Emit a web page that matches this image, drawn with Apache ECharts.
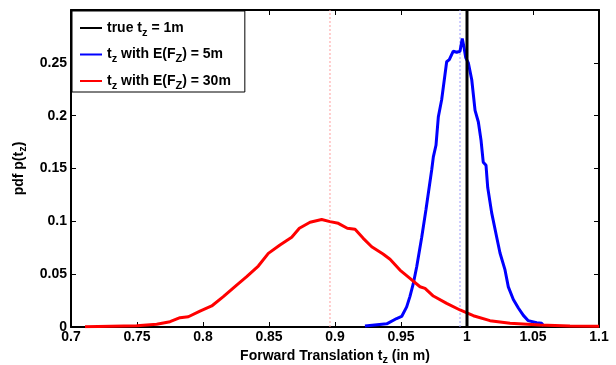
<!DOCTYPE html>
<html>
<head>
<meta charset="utf-8">
<script src="https://cdn.jsdelivr.net/npm/echarts@6/dist/echarts.min.js"></script>
<style>
  html, body { margin: 0; padding: 0; background: #fff; }
  #main { width: 616px; height: 365px; }
</style>
</head>
<body>
<div id="main"></div>
<script>
// blue: t_z with E(F_Z) = 5m
var blueX = [0.9227, 0.9392, 0.9467, 0.9505, 0.9543, 0.9568, 0.9593, 0.9619, 0.9657, 0.9689,
  0.9733, 0.9745, 0.9765, 0.9783, 0.9808, 0.9828, 0.9846, 0.9866, 0.9896, 0.9922,
  0.9947, 0.9964, 0.9977, 0.9990, 1.0010, 1.0036, 1.0061, 1.0086, 1.0106, 1.0123,
  1.0144, 1.0157, 1.0187, 1.0225, 1.0250, 1.0288, 1.0313, 1.0351, 1.0389, 1.0427,
  1.0464, 1.0528, 1.0566, 1.0580];
var blueY = [0.001, 0.003, 0.008, 0.010, 0.019, 0.029, 0.041, 0.057, 0.085, 0.111,
  0.149, 0.161, 0.172, 0.199, 0.215, 0.234, 0.251, 0.253, 0.261, 0.260,
  0.261, 0.273, 0.265, 0.255, 0.250, 0.234, 0.205, 0.194, 0.177, 0.156,
  0.153, 0.132, 0.108, 0.085, 0.070, 0.054, 0.038, 0.026, 0.018, 0.011,
  0.006, 0.004, 0.0035, 0.001];

// red: t_z with E(F_Z) = 30m
var redX = [0.7106, 0.7498, 0.7649, 0.7750, 0.7826, 0.7889, 0.7977, 0.8066, 0.8154, 0.8255,
  0.8331, 0.8419, 0.8495, 0.8583, 0.8672, 0.8730, 0.8811, 0.8899, 0.8962, 0.9025,
  0.9093, 0.9152, 0.9214, 0.9278, 0.9364, 0.9417, 0.9492, 0.9568, 0.9644, 0.9682,
  0.9745, 0.9846, 0.9947, 1.0048, 1.0174, 1.0326, 1.0553, 1.0780, 1.1000];
var redY = [0.0003, 0.0012, 0.0026, 0.0050, 0.0088, 0.0097, 0.0151, 0.0199, 0.0287, 0.0397,
  0.0476, 0.0577, 0.0697, 0.0776, 0.0849, 0.0934, 0.0991, 0.1017, 0.0997, 0.0981,
  0.0934, 0.0925, 0.0839, 0.0760, 0.0691, 0.0641, 0.0539, 0.0461, 0.0381, 0.0366,
  0.0293, 0.0224, 0.0161, 0.0107, 0.0060, 0.0035, 0.0019, 0.0009, 0.0007];

// vertical markers
var trueTz = 1.0;
var blueMean = 0.9947;
var redMean = 0.8962;

var legendNames = ['true tz = 1m', 'tz with E(FZ) = 5m', 'tz with E(FZ) = 30m'];
var legendRich = {
  'true tz = 1m': '{b|true t}{s|z}{b| = 1m}',
  'tz with E(FZ) = 5m': '{b|t}{s|z}{b| with E(F}{s|Z}{b|) = 5m}',
  'tz with E(FZ) = 30m': '{b|t}{s|z}{b| with E(F}{s|Z}{b|) = 30m}'
};

function pairs(xs, ys) {
  return xs.map(function (x, i) { return [x, ys[i]]; });
}

function vline(x, color, width, dash, z) {
  return {
    type: 'line', z: z, silent: true,
    data: [[x, 0], [x, 0.3]],
    showSymbol: false,
    lineStyle: { color: color, width: width, type: dash }
  };
}

var font = 'Liberation Sans, Arial, Helvetica, sans-serif';
var richStyle = {
  b: { fontFamily: font, fontWeight: 'bold', fontSize: 14, color: '#000' },
  s: { fontFamily: font, fontWeight: 'bold', fontSize: 11, color: '#000', padding: [9, 0, 0, 0] }
};

var chart = echarts.init(document.getElementById('main'), null, { renderer: 'canvas' });

var option = {
  animation: false,
  backgroundColor: '#fff',
  grid: { left: 71, right: 17, top: 10, bottom: 38, outerBoundsMode: 'none', containLabel: false },
  legend: {
    left: 72, top: 11, z: 10,
    orient: 'vertical',
    data: legendNames.map(function (n) { return { name: n, icon: 'rect' }; }),
    itemWidth: 22, itemHeight: 2, itemGap: 9.5,
    padding: [10, 14, 1, 8],
    backgroundColor: '#fff',
    borderColor: '#000', borderWidth: 1,
    formatter: function (n) { return legendRich[n]; },
    textStyle: { rich: richStyle }
  },
  xAxis: [{
    type: 'value', min: 0.7, max: 1.1, interval: 0.05,
    name: '{b|Forward Translation t}{s|z}{b| (in m)}',
    nameLocation: 'middle', nameGap: 15,
    nameTextStyle: { rich: richStyle },
    axisLine: { lineStyle: { color: '#000', width: 2 } },
    axisTick: { inside: true, length: 5, lineStyle: { color: '#000', width: 1 } },
    axisLabel: { color: '#000', fontFamily: font, fontWeight: 'bold', fontSize: 14, margin: 3 },
    splitLine: { show: false }
  }, {
    type: 'value', min: 0.7, max: 1.1, interval: 0.05, position: 'top',
    axisLine: { onZero: false, lineStyle: { color: '#000', width: 2 } },
    axisTick: { inside: true, length: 5, lineStyle: { color: '#000', width: 1 } },
    axisLabel: { show: false }, splitLine: { show: false }
  }],
  yAxis: [{
    type: 'value', min: 0, max: 0.3, interval: 0.05,
    name: '{b|pdf p(t}{s|z}{b|)}',
    nameLocation: 'middle', nameGap: 33,
    nameTextStyle: { rich: richStyle },
    axisLine: { lineStyle: { color: '#000', width: 2 } },
    axisTick: { inside: true, length: 5, lineStyle: { color: '#000', width: 1 } },
    axisLabel: {
      color: '#000', fontFamily: font, fontWeight: 'bold', fontSize: 14, margin: 4,
      formatter: function (v) { return v >= 0.299 ? '' : String(+v.toFixed(2)); }
    },
    splitLine: { show: false }
  }, {
    type: 'value', min: 0, max: 0.3, interval: 0.05, position: 'right',
    axisLine: { show: true, onZero: false, lineStyle: { color: '#000', width: 2 } },
    axisTick: { inside: true, length: 5, lineStyle: { color: '#000', width: 1 } },
    axisLabel: { show: false }, splitLine: { show: false }
  }],
  series: [
    vline(redMean, '#ff9c9c', 1, [2, 2], 1),
    vline(blueMean, '#9c9cff', 1, [2, 2], 1),
    {
      name: legendNames[0], type: 'line', z: 5,
      data: [[trueTz, 0], [trueTz, 0.3]],
      showSymbol: false, color: '#000',
      lineStyle: { color: '#000', width: 3 }
    }, {
      name: legendNames[1], type: 'line', z: 3,
      data: pairs(blueX, blueY),
      showSymbol: false, color: '#0000ff',
      lineStyle: { color: '#0000ff', width: 3 }
    }, {
      name: legendNames[2], type: 'line', z: 4,
      data: pairs(redX, redY),
      showSymbol: false, color: '#ff0000',
      lineStyle: { color: '#ff0000', width: 3 }
    }
  ]
};

chart.setOption(option);
</script>
</body>
</html>
